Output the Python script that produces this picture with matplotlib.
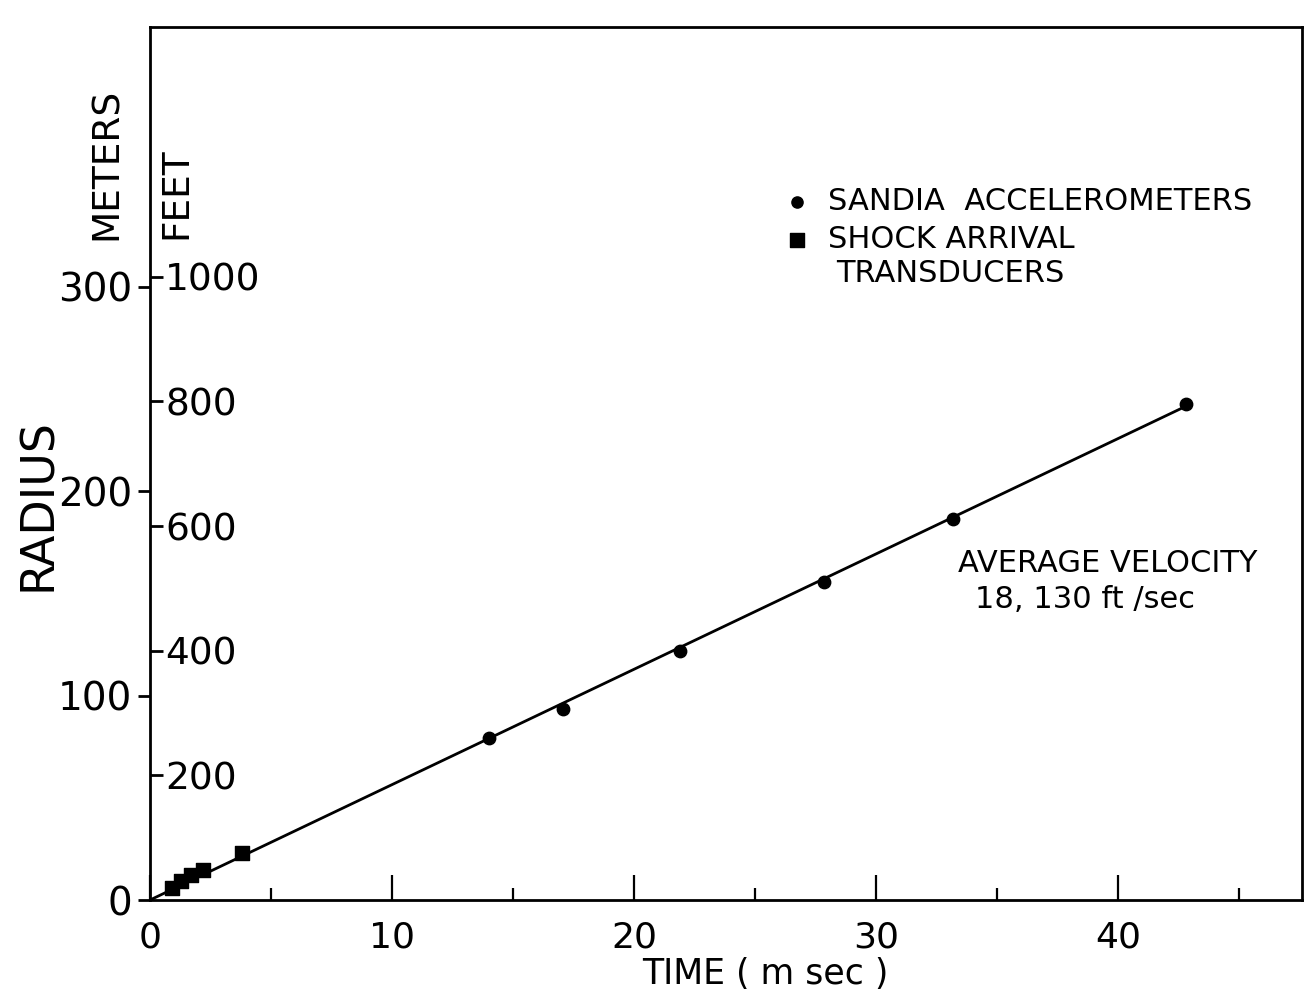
import matplotlib
matplotlib.use("Agg")
import matplotlib.pyplot as plt

# Sandia accelerometer points (time in msec, radius in meters)
accel_time = [14.0, 17.05, 21.9, 27.85, 33.2, 42.8]
accel_radius = [79.0, 93.5, 122.0, 155.5, 186.5, 242.5]

# shock arrival transducers
shock_time = [0.9, 1.3, 1.7, 2.2, 3.8]
shock_radius = [6.0, 9.3, 12.3, 14.7, 22.8]

# fitted line, endpoints
fit_time = [0.0, 42.8]
fit_radius = [0.0, 241.5]

x_major = [0, 10, 20, 30, 40]
x_minor = [5, 15, 25, 35, 45]
meter_ticks = [0, 100, 200, 300]
feet_ticks = [200, 400, 600, 800, 1000]

W, H = 1305, 990
FT_PER_M = 3.28084
y_top = 427
x_right = 47.6

plt.rcParams['font.family'] = ['DejaVu Sans']

fig = plt.figure(figsize=(W / 100, H / 100), dpi=100)
ax = fig.add_axes([150 / W, (H - 900) / H, (1302 - 150) / W, (900 - 27) / H])

ax.plot(fit_time, fit_radius, color='black', lw=2.0, zorder=2)
ax.scatter(accel_time, accel_radius, s=80, marker='o', color='black', zorder=3,
           label='SANDIA  ACCELEROMETERS')
ax.scatter(shock_time, shock_radius, s=110, marker='s', color='black', zorder=3,
           label='SHOCK ARRIVAL')

ax.set_xlim(0, x_right)
ax.set_ylim(0, y_top)

for s in ax.spines.values():
    s.set_linewidth(2.0)

ax.set_xticks(x_major)
ax.set_xticks(x_minor, minor=True)
ax.tick_params(axis='x', which='major', direction='in', length=18, width=1.6,
               labelsize=26, pad=15)
ax.tick_params(axis='x', which='minor', direction='in', length=9, width=1.6)

ax.set_yticks(meter_ticks)
ax.tick_params(axis='y', direction='out', length=9, width=2, labelsize=28, pad=4)
ax.yaxis.get_major_ticks()[0].tick1line.set_visible(False)

# feet scale on the inner side of the left spine
ax2 = ax.twinx()
ax2.spines['right'].set_position(('axes', 0))
for s in ax2.spines.values():
    s.set_visible(False)
ax2.set_ylim(0, y_top * FT_PER_M)
ax2.set_yticks(feet_ticks)
ax2.tick_params(axis='y', direction='out', length=9, width=2, labelsize=27, pad=2)

# axis titles
fig.text(38 / W, 1 - 505 / H, 'RADIUS', rotation=90, fontsize=33,
         ha='center', va='center')
fig.text(107 / W, 1 - 164 / H, 'METERS', rotation=90, fontsize=27,
         ha='center', va='center')
fig.text(176 / W, 1 - 193 / H, 'FEET', rotation=90, fontsize=27,
         ha='center', va='center')
fig.text(765 / W, 1 - 984 / H, 'TIME ( m sec )', fontsize=25,
         ha='center', va='baseline')

leg = ax.legend(loc='upper left', bbox_to_anchor=(788 / W, 1 - 187 / H),
                bbox_transform=fig.transFigure, frameon=False, fontsize=22,
                handlelength=0.6, handletextpad=0.7, labelspacing=0.3,
                borderpad=0, borderaxespad=0, markerscale=0.9)
fig.text(836 / W, 1 - 274 / H, 'TRANSDUCERS', fontsize=22,
         ha='left', va='center')

fig.text(958 / W, 1 - 563 / H, 'AVERAGE VELOCITY', fontsize=22,
         ha='left', va='center')
fig.text(975 / W, 1 - 599 / H, '18, 130 ft /sec', fontsize=22,
         ha='left', va='center')

fig.savefig('out.png', dpi=100, facecolor='white')
